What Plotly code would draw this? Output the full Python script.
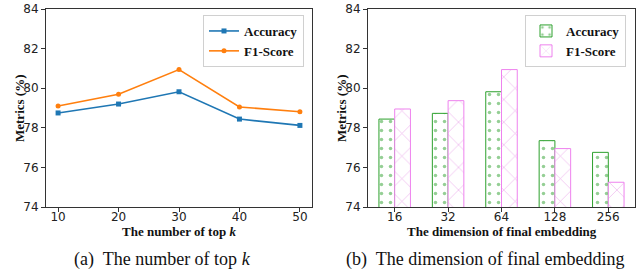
import plotly.graph_objects as go

# ---- data ----
topk = [10, 20, 30, 40, 50]
acc_topk = [78.75, 79.2, 79.82, 78.44, 78.12]
f1_topk = [79.1, 79.69, 80.94, 79.05, 78.81]

dims = ["16", "32", "64", "128", "256"]
acc_dim = [78.44, 78.73, 79.82, 77.35, 76.76]
f1_dim = [78.95, 79.37, 80.94, 76.95, 75.25]

y_ticks = [74, 76, 78, 80, 82, 84]

W, H = 642, 270
SERIF = "Liberation Serif, Times New Roman, serif"
SANS = "DejaVu Sans, sans-serif"
AXC = "#333333"

fig = go.Figure()

fig.add_trace(go.Scatter(x=topk, y=acc_topk, mode="lines+markers", name="Accuracy",
                         line=dict(color="#1f77b4", width=1.6),
                         marker=dict(symbol="square", size=5, color="#1f77b4"),
                         xaxis="x", yaxis="y", legend="legend"))
fig.add_trace(go.Scatter(x=topk, y=f1_topk, mode="lines+markers", name="F1-Score",
                         line=dict(color="#ff7f0e", width=1.6),
                         marker=dict(symbol="circle", size=5, color="#ff7f0e"),
                         xaxis="x", yaxis="y", legend="legend"))

fig.add_trace(go.Bar(x=dims, y=acc_dim, name="Accuracy",
                     marker=dict(color="white", line=dict(color="#2ca02c", width=1),
                                 pattern=dict(shape=".", fgcolor="#2ca02c", bgcolor="white",
                                              size=9, solidity=0.12)),
                     xaxis="x2", yaxis="y2", legend="legend2"))
fig.add_trace(go.Bar(x=dims, y=f1_dim, name="F1-Score",
                     marker=dict(color="white", line=dict(color="#ee82ee", width=1),
                                 pattern=dict(shape="x", fgcolor="#dd66dd", bgcolor="white",
                                              size=16, solidity=0.08)),
                     xaxis="x2", yaxis="y2", legend="legend2"))

def px_x(p):
    return p / W

def px_y(p):
    return 1 - p / H

axis_common = dict(showgrid=False, zeroline=False, showline=True, linecolor=AXC, linewidth=1,
                   mirror=True, ticks="outside", ticklen=4, tickcolor=AXC, automargin=False,
                   tickfont=dict(family=SANS, size=12, color="#222"))

fig.update_layout(
    width=W, height=H,
    margin=dict(l=0, r=0, t=0, b=0, pad=0, autoexpand=False),
    paper_bgcolor="white", plot_bgcolor="white",
    barmode="group", bargap=0.41, bargroupgap=0,
    xaxis=dict(domain=[px_x(46), px_x(312)], range=[8, 52], tickvals=topk,
               anchor="y", ticklabelstandoff=-5, **axis_common),
    yaxis=dict(domain=[px_y(207), px_y(9)], range=[74, 84], tickvals=y_ticks,
               anchor="x", **axis_common),
    xaxis2=dict(domain=[px_x(368), px_x(635)], range=[-0.5, 4.5], type="category",
                anchor="y2", ticklabelstandoff=-5, **axis_common),
    yaxis2=dict(domain=[px_y(207), px_y(9)], range=[74, 84], tickvals=y_ticks,
                anchor="x2", **axis_common),
    legend=dict(x=px_x(203), y=px_y(15), xanchor="left", yanchor="top",
                bgcolor="white", bordercolor="#d0d0d0", borderwidth=1,
                font=dict(family=SERIF, size=13, color="#111", weight="bold"),
                itemwidth=30, tracegroupgap=0),
    legend2=dict(x=px_x(525), y=px_y(15), xanchor="left", yanchor="top",
                 bgcolor="white", bordercolor="#d0d0d0", borderwidth=1,
                 font=dict(family=SERIF, size=13, color="#111", weight="bold"),
                 itemwidth=30, tracegroupgap=0),
    showlegend=True,
)

ann_font_b = dict(family=SERIF, size=13, color="#111", weight="bold")
annotations = [
    dict(text="The number of top <i>k</i>", x=px_x(179), y=px_y(231), font=ann_font_b),
    dict(text="The dimension of final embedding", x=px_x(502), y=px_y(231), font=ann_font_b),
    dict(text="Metrics (%)", x=px_x(19), y=px_y(108), textangle=-90, font=ann_font_b),
    dict(text="Metrics (%)", x=px_x(341), y=px_y(108), textangle=-90, font=ann_font_b),
    dict(text="(a)  The number of top <i>k</i>", x=px_x(163), y=px_y(259),
         font=dict(family=SERIF, size=18, color="#111")),
    dict(text="(b)  The dimension of final embedding", x=px_x(485), y=px_y(259),
         font=dict(family=SERIF, size=18, color="#111")),
]
for a in annotations:
    a.update(xref="paper", yref="paper", showarrow=False, xanchor="center", yanchor="middle")
fig.update_layout(annotations=annotations)

fig.write_html("out.html", config={"displayModeBar": False},
               post_script="document.body.style.margin='0';document.body.style.overflow='hidden';")
